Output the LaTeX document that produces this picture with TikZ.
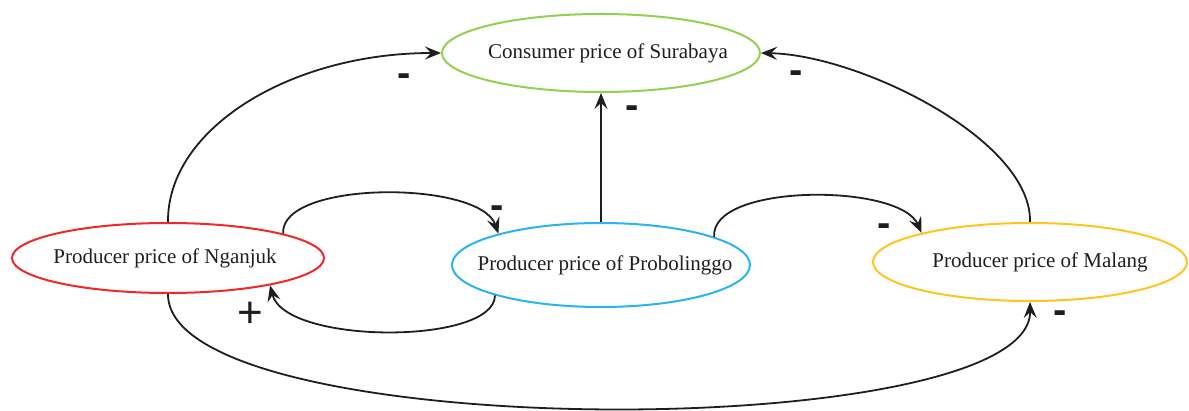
\documentclass[tikz,border=0pt]{standalone}
\usepackage{fontspec}
\setmainfont{Liberation Serif}
\newfontfamily\signfont{Liberation Sans}
\usetikzlibrary{shapes.geometric,arrows.meta}
\definecolor{cgreen}{RGB}{146,208,80}
\definecolor{cred}{RGB}{240,40,40}
\definecolor{cblue}{RGB}{40,180,240}
\definecolor{cyellow}{RGB}{255,196,30}
\definecolor{ink}{RGB}{30,30,30}
\tikzset{
  ell/.style={ellipse, draw, line width=2pt, inner sep=0pt, text=ink,
    font=\fontsize{21}{25}\selectfont},
  conn/.style={draw=ink, line width=1.8pt,
    -{Stealth[length=16pt,width=13pt,inset=6pt]}},
  sign/.style={inner sep=0pt, text=ink, font=\signfont\bfseries\fontsize{40}{40}\selectfont},
  plussign/.style={inner sep=0pt, text=ink, font=\signfont\fontsize{44}{44}\selectfont}
}
\begin{document}
\begin{tikzpicture}[x=1pt,y=-1pt]
\useasboundingbox (0,0) rectangle (1189,411);
\node[ell, draw=cgreen, minimum width=318pt, minimum height=78pt] (sur) at (601,53)
  {\makebox[0pt]{\kern14pt Consumer price of Surabaya}};
\node[ell, draw=cred, minimum width=312pt, minimum height=70pt] (ngj) at (168,258)
  {\makebox[0pt]{\kern-6pt Producer price of Nganjuk}};
\node[ell, draw=cblue, minimum width=298pt, minimum height=84pt] (pro) at (601,265)
  {\makebox[0pt]{\kern8pt Producer price of Probolinggo}};
\node[ell, draw=cyellow, minimum width=314pt, minimum height=78pt] (mal) at (1030,262)
  {\makebox[0pt]{\kern20pt Producer price of Malang}};

\draw[conn] (ngj.north) .. controls (167,129) and (290,53) .. (sur.west);
\draw[conn] (mal.north) .. controls (1032,140) and (860,55) .. (sur.east);
\draw[conn] (pro.north) -- (sur.south);
\draw[conn] (ngj.12.9) .. controls (280,180) and (480,180) .. (pro.163.2);
\draw[conn] (pro.196.8) .. controls (495,345) and (285,345) .. (ngj.345.8);
\draw[conn] (pro.14.8) .. controls (710,183) and (900,183) .. (mal.165.4);
\draw[conn] (ngj.south) .. controls (167,445) and (1032,445) .. (mal.south);

\node[sign] (s1) at (404,80) {-};
\node[sign] (s2) at (796,77) {-};
\node[sign] (s3) at (632,112) {-};
\node[sign] (s4) at (497,212) {-};
\node[plussign] (s5) at (250,315) {+};
\node[sign] (s6) at (884,230) {-};
\node[sign] (s7) at (1060,317) {-};
\end{tikzpicture}
\end{document}
